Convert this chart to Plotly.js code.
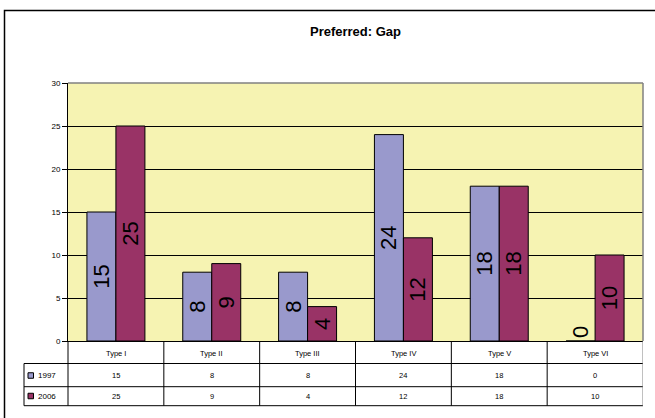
<!DOCTYPE html>
<html>
<head>
<meta charset="utf-8">
<script src="https://cdn.plot.ly/plotly-3.0.1.min.js"></script>
<style>html,body{margin:0;padding:0;background:#fff;}#chart{width:655px;height:418px;}</style>
</head>
<body>
<div id="chart"></div>
<script>
var categories = ["Type I", "Type II", "Type III", "Type IV", "Type V", "Type VI"];
var seriesNames = ["1997", "2006"];
var values1997 = [15, 8, 8, 24, 18, 0];
var values2006 = [25, 9, 4, 12, 18, 10];
var yTicks = [0, 5, 10, 15, 20, 25, 30];

var colors = ["#9999CC", "#993366"];
var allSeries = [values1997, values2006];
var FONT = "Liberation Sans, Arial, sans-serif";

// plot geometry helpers (pixels -> paper)
var L = 68, R = 12, T = 83, B = 77, W = 655, H = 418;
var pw = W - L - R, ph = H - T - B;
function px(p) { return (p - L) / pw; }
function py(p) { return (H - B - p) / ph; }

var traces = allSeries.map(function (vals, k) {
  return {
    type: "bar",
    name: seriesNames[k],
    x: categories.map(function (c, i) { return i; }),
    y: vals,
    text: vals.map(String),
    textposition: vals.map(function (v) { return v === 0 ? "outside" : "inside"; }),
    insidetextanchor: "middle",
    textangle: -90,
    constraintext: "none",
    cliponaxis: false,
    textfont: { family: FONT, size: 22, color: "#000" },
    marker: { color: colors[k], line: { color: "#000", width: 1 } },
    hoverinfo: "none"
  };
});

var shapes = [];
var annotations = [];

// outer chart border (top and left visible)
shapes.push({ type: "rect", xref: "paper", yref: "paper", x0: px(4.5), x1: px(700), y0: py(10.5), y1: py(460),
  line: { color: "#000", width: 1.5 }, layer: "below" });
// plot area border (gray, top/right)
shapes.push({ type: "line", xref: "paper", yref: "paper", x0: 0, x1: 1, y0: 1, y1: 1, line: { color: "#808080", width: 1.5 } });
shapes.push({ type: "line", xref: "paper", yref: "paper", x0: 1, x1: 1, y0: 0, y1: 1, line: { color: "#808080", width: 1.5 } });

// data table
var yHeadBot = py(363.5), yRow1Bot = py(386.7), yRow2Bot = py(405.7);
var xTableLeft = px(24);
var lineStyle = { color: "#000", width: 1 };
shapes.push({ type: "line", xref: "paper", yref: "paper", x0: xTableLeft, x1: 1, y0: yHeadBot, y1: yHeadBot, line: lineStyle });
shapes.push({ type: "line", xref: "paper", yref: "paper", x0: xTableLeft, x1: 1, y0: yRow1Bot, y1: yRow1Bot, line: lineStyle });
shapes.push({ type: "line", xref: "paper", yref: "paper", x0: xTableLeft, x1: 1, y0: yRow2Bot, y1: yRow2Bot, line: lineStyle });
shapes.push({ type: "line", xref: "paper", yref: "paper", x0: xTableLeft, x1: xTableLeft, y0: yHeadBot, y1: yRow2Bot, line: lineStyle });
shapes.push({ type: "line", xref: "paper", yref: "paper", x0: 0, x1: 0, y0: 0, y1: yRow2Bot, line: lineStyle });
categories.forEach(function (c, i) {
  shapes.push({ type: "line", xref: "x", yref: "paper", x0: i + 0.5, x1: i + 0.5, y0: 0, y1: yRow2Bot,
    line: { color: i === categories.length - 1 ? "#808080" : "#000", width: 1 } });
  annotations.push({ xref: "x", yref: "paper", x: i, y: py(353), text: c, showarrow: false,
    font: { family: FONT, size: 7.5, color: "#000" }, yanchor: "middle" });
});
var rowY = [py(375.5), py(396)];
allSeries.forEach(function (vals, k) {
  vals.forEach(function (v, i) {
    annotations.push({ xref: "x", yref: "paper", x: i, y: rowY[k], text: String(v), showarrow: false,
      font: { family: FONT, size: 7.5, color: "#000" }, yanchor: "middle" });
  });
  // legend key
  shapes.push({ type: "rect", xref: "paper", yref: "paper",
    x0: px(28), x1: px(33.5), y0: rowY[k] - 2.75 / ph, y1: rowY[k] + 2.75 / ph,
    fillcolor: colors[k], line: { color: "#000", width: 1 } });
  annotations.push({ xref: "paper", yref: "paper", x: px(36), y: rowY[k], text: seriesNames[k], showarrow: false,
    xanchor: "left", yanchor: "middle", font: { family: FONT, size: 8, color: "#000" } });
});

var layout = {
  width: W, height: H,
  margin: { l: L, r: R, t: T, b: B, pad: 0 },
  paper_bgcolor: "#fff",
  plot_bgcolor: "#F6F3B2",
  showlegend: false,
  barmode: "group",
  bargap: 0.395,
  bargroupgap: 0,
  title: { text: "<b>Preferred: Gap</b>", x: 0.5, xref: "paper", y: (H - 31) / H, yref: "container",
    yanchor: "middle", font: { family: FONT, size: 13, color: "#000" } },
  xaxis: { range: [-0.5, categories.length - 0.5], showticklabels: false, ticks: "", showgrid: false,
    zeroline: false, showline: true, linecolor: "#000", linewidth: 1, fixedrange: true },
  yaxis: { range: [0, 30], tickvals: yTicks, ticktext: yTicks.map(String), ticks: "outside", ticklen: 5,
    tickcolor: "#000", showline: true, linecolor: "#000", linewidth: 1, showgrid: true, gridcolor: "#000",
    gridwidth: 1, zeroline: false, tickfont: { family: FONT, size: 8, color: "#000" }, fixedrange: true },
  shapes: shapes,
  annotations: annotations
};

Plotly.newPlot("chart", traces, layout, { staticPlot: true, displayModeBar: false });
</script>
</body>
</html>
